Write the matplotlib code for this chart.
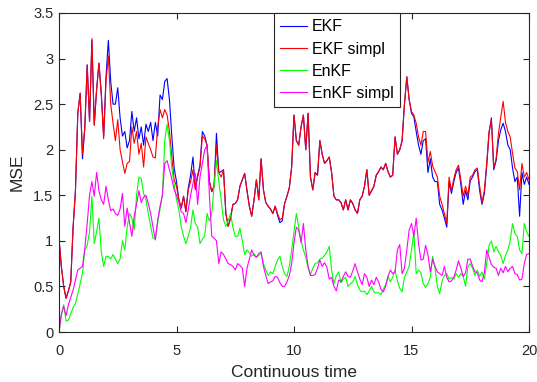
import numpy as np
import matplotlib
matplotlib.use("Agg")
import matplotlib.pyplot as plt

plt.rcParams['font.family'] = ['Liberation Sans', 'DejaVu Sans']

t = np.round(np.arange(0, 201) * 0.1, 1)

ekf_simpl = [
    1.02, 0.72, 0.50, 0.37, 0.45, 0.55, 1.15, 1.55, 2.40, 2.62,
    1.95, 2.25, 2.93, 2.31, 3.22, 2.27, 2.66, 2.95, 2.60, 2.12,
    2.75, 3.03, 2.50, 2.29, 2.10, 2.33, 2.00, 1.87, 1.74, 1.85,
    1.87, 2.25, 2.07, 2.20, 1.95, 2.07, 1.81, 2.14, 2.07, 2.00,
    1.92, 1.91, 2.25, 2.44, 2.35, 2.44, 2.38, 2.20, 1.92, 1.67,
    1.60, 1.45, 1.36, 1.49, 1.32, 1.56, 1.65, 1.78, 1.56, 1.70,
    1.81, 2.15, 2.12, 2.05, 1.65, 1.54, 1.60, 2.05, 1.75, 1.70,
    1.78, 1.30, 1.16, 1.25, 1.40, 1.41, 1.45, 1.60, 1.67, 1.74,
    1.55, 1.38, 1.27, 1.45, 1.67, 1.45, 1.90, 1.56, 1.42, 1.38,
    1.35, 1.30, 1.38, 1.30, 1.23, 1.25, 1.41, 1.49, 1.58, 1.81,
    2.38, 2.10, 2.05, 2.25, 2.38, 2.00, 2.40, 1.70, 1.56, 1.75,
    1.72, 2.10, 1.95, 1.85, 1.88, 1.92, 1.75, 1.49, 1.45, 1.45,
    1.42, 1.34, 1.45, 1.34, 1.45, 1.41, 1.34, 1.30, 1.45, 1.49,
    1.60, 1.78, 1.50, 1.55, 1.60, 1.72, 1.76, 1.81, 1.78, 1.85,
    1.76, 1.70, 1.72, 2.14, 1.95, 2.00, 2.10, 2.50, 2.80, 2.55,
    2.42, 2.38, 2.29, 2.14, 2.05, 2.20, 2.20, 1.86, 1.98, 1.82,
    1.76, 1.70, 1.49, 1.40, 1.30, 1.19, 1.70, 1.55, 1.68, 1.78,
    1.83, 1.67, 1.49, 1.60, 1.50, 1.70, 1.72, 1.78, 1.80, 1.60,
    1.42, 1.55, 1.85, 2.20, 2.33, 1.80, 1.90, 2.18, 2.36, 2.53,
    2.30, 2.20, 2.14, 1.96, 1.80, 1.76, 1.56, 1.85, 1.70, 1.75,
    1.67,
]

ekf = [
    1.02, 0.72, 0.50, 0.37, 0.45, 0.55, 1.15, 1.55, 2.40, 2.62,
    1.90, 2.25, 2.93, 2.31, 3.20, 2.27, 2.66, 2.95, 2.62, 2.15,
    2.80, 3.20, 2.75, 2.50, 2.50, 2.68, 2.35, 2.15, 2.20, 2.02,
    2.10, 2.42, 2.20, 2.35, 2.12, 2.25, 2.05, 2.28, 2.20, 2.30,
    2.10, 2.30, 2.15, 2.60, 2.55, 2.75, 2.78, 2.55, 2.15, 1.80,
    1.65, 1.45, 1.36, 1.49, 1.32, 1.58, 1.72, 1.92, 1.58, 1.72,
    1.83, 2.20, 2.15, 2.05, 1.65, 1.54, 1.60, 2.18, 1.75, 1.76,
    1.78, 1.30, 1.16, 1.25, 1.40, 1.41, 1.45, 1.60, 1.67, 1.74,
    1.55, 1.38, 1.27, 1.45, 1.67, 1.45, 1.90, 1.56, 1.42, 1.38,
    1.35, 1.30, 1.38, 1.28, 1.20, 1.22, 1.41, 1.49, 1.58, 1.81,
    2.38, 2.10, 2.05, 2.25, 2.38, 2.00, 2.40, 1.70, 1.56, 1.75,
    1.72, 2.10, 1.95, 1.85, 1.88, 1.92, 1.75, 1.49, 1.45, 1.45,
    1.42, 1.34, 1.45, 1.34, 1.45, 1.41, 1.34, 1.30, 1.45, 1.49,
    1.60, 1.78, 1.50, 1.55, 1.60, 1.72, 1.76, 1.81, 1.78, 1.85,
    1.76, 1.70, 1.72, 2.14, 1.95, 2.00, 2.10, 2.50, 2.80, 2.55,
    2.40, 2.36, 2.20, 2.05, 1.95, 2.10, 2.12, 1.75, 1.90, 1.70,
    1.65, 1.65, 1.40, 1.34, 1.25, 1.15, 1.65, 1.52, 1.65, 1.75,
    1.80, 1.62, 1.40, 1.55, 1.45, 1.66, 1.70, 1.76, 1.78, 1.55,
    1.40, 1.52, 1.82, 2.18, 2.35, 1.78, 1.88, 2.10, 2.22, 2.29,
    2.20, 2.05, 2.00, 1.80, 1.65, 1.70, 1.27, 1.75, 1.62, 1.70,
    1.62,
]

enkf = [
    0.00, 0.18, 0.30, 0.12, 0.13, 0.20, 0.27, 0.31, 0.42, 0.53,
    0.65, 0.90, 0.95, 1.10, 1.49, 0.97, 1.10, 1.25, 0.88, 0.72,
    0.83, 0.83, 0.80, 0.85, 0.80, 0.75, 0.80, 1.00, 0.90, 1.15,
    1.30, 1.25, 1.12, 1.50, 1.70, 1.68, 1.52, 1.45, 1.30, 1.16,
    1.03, 1.02, 1.20, 1.35, 1.50, 2.10, 2.28, 2.10, 1.80, 1.62,
    1.45, 1.34, 1.16, 1.05, 0.97, 1.05, 1.15, 1.34, 1.19, 1.15,
    0.97, 1.02, 1.05, 1.30, 1.22, 1.30, 1.60, 1.88, 1.65, 1.45,
    1.23, 1.16, 1.22, 1.30, 1.15, 1.05, 1.05, 1.14, 1.00, 0.85,
    0.90, 0.87, 0.83, 0.86, 0.82, 0.84, 0.86, 0.75, 0.68, 0.62,
    0.66, 0.64, 0.72, 0.79, 0.83, 0.72, 0.64, 0.61, 0.72, 0.90,
    1.10, 1.30, 1.15, 1.00, 0.90, 0.82, 0.70, 0.63, 0.70, 0.75,
    0.76, 0.80, 0.81, 0.84, 0.88, 0.94, 0.68, 0.53, 0.62, 0.66,
    0.54, 0.58, 0.60, 0.50, 0.53, 0.55, 0.61, 0.52, 0.46, 0.44,
    0.45, 0.41, 0.45, 0.50, 0.44, 0.43, 0.43, 0.41, 0.47, 0.52,
    0.61, 0.55, 0.60, 0.68, 0.56, 0.48, 0.44, 0.60, 0.66, 0.72,
    0.90, 1.10, 0.64, 0.68, 0.65, 0.53, 0.49, 0.53, 0.60, 0.83,
    0.70, 0.50, 0.42, 0.56, 0.62, 0.64, 0.58, 0.60, 0.58, 0.64,
    0.60, 0.64, 0.61, 0.50, 0.72, 0.75, 0.70, 0.62, 0.68, 0.61,
    0.66, 0.58, 0.75, 0.95, 1.00, 0.88, 0.94, 0.88, 0.84, 0.75,
    0.84, 0.90, 1.00, 1.19, 1.08, 1.05, 0.90, 0.86, 1.19, 1.10,
    1.05,
]

enkf_simpl = [
    0.00, 0.20, 0.28, 0.18, 0.30, 0.38, 0.46, 0.57, 0.68, 0.70,
    0.72, 0.92, 1.19, 1.50, 1.65, 1.49, 1.75, 1.55, 1.45, 1.40,
    1.60, 1.45, 1.33, 1.35, 1.30, 1.28, 1.35, 1.52, 1.16, 1.36,
    1.20, 1.05, 1.27, 1.40, 1.55, 1.42, 1.48, 1.50, 1.41, 1.30,
    1.15, 1.01, 1.23, 1.38, 1.50, 1.85, 1.88, 1.78, 1.68, 1.56,
    1.50, 1.42, 1.32, 1.30, 1.20, 1.34, 1.50, 1.63, 1.74, 1.40,
    1.70, 1.85, 2.00, 2.05, 1.50, 1.05, 1.03, 1.00, 0.75, 0.88,
    0.85, 0.80, 0.75, 0.74, 0.72, 0.68, 0.75, 0.73, 0.70, 0.50,
    0.70, 0.80, 0.90, 0.84, 0.82, 0.86, 0.88, 0.72, 0.62, 0.53,
    0.55, 0.56, 0.61, 0.60, 0.54, 0.50, 0.50, 0.55, 0.62, 0.75,
    0.98, 1.15, 1.12, 0.98, 1.19, 0.90, 0.72, 0.62, 0.62, 0.63,
    0.70, 0.79, 0.72, 0.76, 0.71, 0.58, 0.60, 0.50, 0.45, 0.57,
    0.55, 0.61, 0.66, 0.61, 0.60, 0.67, 0.75, 0.66, 0.58, 0.52,
    0.64, 0.60, 0.50, 0.57, 0.52, 0.60, 0.55, 0.47, 0.44, 0.50,
    0.61, 0.68, 0.64, 0.66, 0.90, 0.96, 0.64, 0.70, 0.90, 1.12,
    1.19, 1.05, 1.25, 0.97, 0.79, 0.80, 0.95, 0.85, 0.66, 0.80,
    0.72, 0.66, 0.64, 0.62, 0.72, 0.60, 0.55, 0.56, 0.60, 0.68,
    0.78, 0.70, 0.61, 0.65, 0.80, 0.80, 0.72, 0.66, 0.65, 0.57,
    0.55, 0.65, 0.90, 0.82, 0.74, 0.71, 0.70, 0.62, 0.70, 0.65,
    0.72, 0.66, 0.70, 0.72, 0.64, 0.63, 0.57, 0.58, 0.75, 0.85,
    0.86,
]

labels = ["EKF", "EKF simpl", "EnKF", "EnKF simpl"]
x_ticks = [0, 5, 10, 15, 20]
y_ticks = [0, 0.5, 1, 1.5, 2, 2.5, 3, 3.5]
y_tick_labels = ["0", "0.5", "1", "1.5", "2", "2.5", "3", "3.5"]

fig = plt.figure(figsize=(5.37, 3.82), dpi=100)
ax = fig.add_axes([59 / 537, 50 / 382, 470 / 537, 319 / 382])

series = [ekf, ekf_simpl, enkf, enkf_simpl]
colors = ["#0000ff", "#ff0000", "#00ff00", "#ff00ff"]
for s, c, lab in zip(series, colors, labels):
    ax.plot(t, s, color=c, lw=0.8, label=lab)

ax.set_xlim(0, 20)
ax.set_ylim(0, 3.5)
ax.set_xticks(x_ticks)
ax.set_xticklabels([str(v) for v in x_ticks])
ax.set_yticks(y_ticks)
ax.set_yticklabels(y_tick_labels)

dark = "#262626"
for sp in ax.spines.values():
    sp.set_color(dark)
    sp.set_linewidth(0.8)
ax.tick_params(direction="in", top=True, right=True, length=4, width=0.8,
               colors=dark, labelsize=10.5)
ax.tick_params(axis="x", pad=8.5)
ax.tick_params(axis="y", pad=4)
ax.set_xlabel("Continuous time", fontsize=12.5, color=dark, labelpad=5)
ax.set_ylabel("MSE", fontsize=12.5, color=dark, labelpad=6)

leg = ax.legend(loc="upper left", bbox_to_anchor=(0.457, 1.0),
                borderaxespad=0, fancybox=False, framealpha=1,
                edgecolor=dark, fontsize=11.5, handlelength=1.7,
                handletextpad=0.3, borderpad=0.4, labelspacing=0.45)
leg.get_frame().set_linewidth(0.8)

fig.savefig("out.png", dpi=100)
